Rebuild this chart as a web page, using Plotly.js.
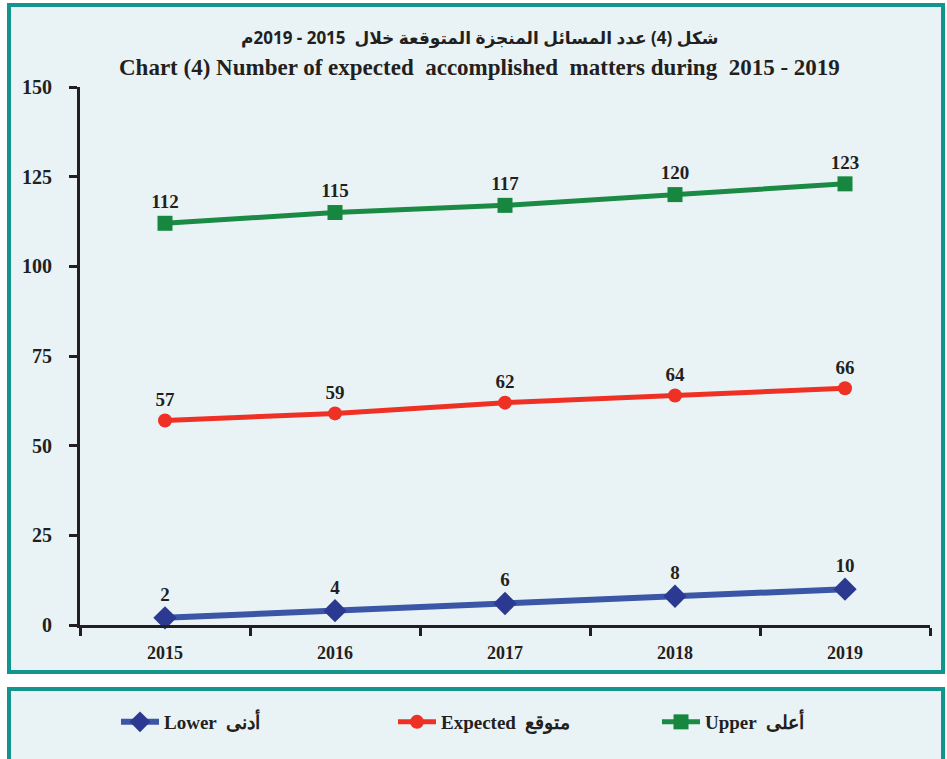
<!DOCTYPE html>
<html>
<head>
<meta charset="utf-8">
<script src="https://cdn.plot.ly/plotly-3.0.1.min.js"></script>
<style>
html,body{margin:0;padding:0;background:#ffffff;}
#chart{width:947px;height:759px;}
</style>
</head>
<body>
<div id="chart"></div>
<script>
// Data
const years = ["2015", "2016", "2017", "2018", "2019"];
const lowerValues = [2, 4, 6, 8, 10];
const expectedValues = [57, 59, 62, 64, 66];
const upperValues = [112, 115, 117, 120, 123];
const seriesNames = ["Lower\u00a0\u00a0أدنى", "Expected\u00a0\u00a0متوقع", "Upper\u00a0\u00a0أعلى"];
const yTicks = [0, 25, 50, 75, 100, 125, 150];
const titleArabic = "شكل (4) عدد المسائل المنجزة المتوقعة خلال  2015 - 2019م";
const titleEnglish = "Chart (4) Number of expected\u00a0 accomplished\u00a0 matters during\u00a0 2015 - 2019";

const serif = "Liberation Serif, Times New Roman, serif";
const dark = "#231f20";
const labelFont = {family: serif, size: 19, color: dark, weight: 700};

function series(name, vals, lineColor, markerColor, symbol, msize, lw, legendId) {
  return {
    type: "scatter", mode: "lines+markers+text",
    name: name, x: years, y: vals, legend: legendId,
    text: vals.map(String), textposition: "top center",
    textfont: labelFont,
    line: {color: lineColor, width: lw},
    marker: {color: markerColor, symbol: symbol, size: msize, line: {width: 0}},
    cliponaxis: false, hoverinfo: "skip"
  };
}

const data = [
  series(seriesNames[0], lowerValues, "#3b56a6", "#2b3990", "diamond", 18, 6, "legend"),
  series(seriesNames[1], expectedValues, "#ee3124", "#ee3124", "circle", 14, 5, "legend2"),
  series(seriesNames[2], upperValues, "#1a8a45", "#17873f", "square", 15, 5, "legend3")
];

const L = 80, R = 930, T = 87, B = 625;
const W = R - L, H = B - T;
const px = v => (v - L) / W;
const py = v => (B - v) / H;

const teal = "#12948f";
const panel = "#e9f3f6";

function legendAt(xPix) {
  return {
    orientation: "h", xref: "container", yref: "container",
    x: xPix / 947, xanchor: "left", y: 1 - 722 / 759, yanchor: "middle",
    bgcolor: "rgba(0,0,0,0)", itemwidth: 38,
    font: {family: serif, size: 19, color: dark, weight: 700},
    itemclick: false
  };
}

const layout = {
  width: 947, height: 759,
  margin: {l: L, r: 947 - R, t: T, b: 759 - B, pad: 0, autoexpand: false},
  paper_bgcolor: "#ffffff",
  plot_bgcolor: "rgba(0,0,0,0)",
  showlegend: true,
  legend: legendAt(116),
  legend2: legendAt(393),
  legend3: legendAt(657),
  xaxis: {
    type: "category", range: [-0.5, 4.5], tickson: "boundaries",
    showline: true, linecolor: dark, linewidth: 3,
    ticks: "outside", ticklen: 8, tickwidth: 3, tickcolor: dark,
    showgrid: false, zeroline: false, fixedrange: true,
    tickfont: {family: serif, size: 18, color: dark, weight: 700},
    ticklabelstandoff: 9
  },
  yaxis: {
    range: [0, 150], tickvals: yTicks, ticktext: yTicks.map(String),
    showline: true, linecolor: dark, linewidth: 3,
    ticks: "outside", ticklen: 8, tickwidth: 3, tickcolor: dark,
    showgrid: false, zeroline: false, fixedrange: true,
    tickfont: {family: serif, size: 20, color: dark, weight: 700},
    ticklabelstandoff: 13
  },
  shapes: [
    {type: "rect", xref: "paper", yref: "paper", layer: "below",
     x0: px(9), x1: px(943), y0: py(672), y1: py(5),
     fillcolor: panel, line: {color: teal, width: 4}},
    {type: "rect", xref: "paper", yref: "paper", layer: "below",
     x0: px(9), x1: px(943), y0: py(764), y1: py(689),
     fillcolor: panel, line: {color: teal, width: 4}}
  ],
  annotations: [
    {xref: "paper", yref: "paper", x: px(480), y: py(37), xanchor: "center", yanchor: "middle",
     text: titleArabic, showarrow: false,
     font: {family: "Noto Sans, DejaVu Sans, sans-serif", size: 17, color: dark, weight: 700}},
    {xref: "paper", yref: "paper", x: px(479), y: py(67), xanchor: "center", yanchor: "middle",
     text: titleEnglish, showarrow: false,
     font: {family: serif, size: 23, color: dark, weight: 700}}
  ]
};

Plotly.newPlot("chart", data, layout, {displayModeBar: false, staticPlot: true});
</script>
</body>
</html>
